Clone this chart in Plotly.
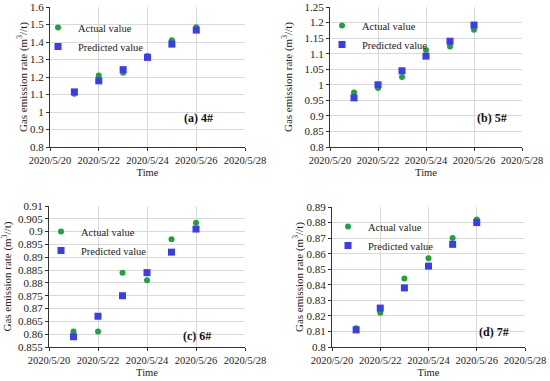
import plotly.graph_objects as go

dates = ["2020-05-21", "2020-05-22", "2020-05-23", "2020-05-24", "2020-05-25", "2020-05-26"]
tick_dates = ["2020-05-20", "2020-05-22", "2020-05-24", "2020-05-26", "2020-05-28"]
tick_labels = ["2020/5/20", "2020/5/22", "2020/5/24", "2020/5/26", "2020/5/28"]

actual_4 = [1.105, 1.208, 1.225, 1.320, 1.410, 1.485]
pred_4 = [1.115, 1.178, 1.242, 1.312, 1.388, 1.468]
actual_5 = [0.975, 0.990, 1.025, 1.112, 1.123, 1.177]
pred_5 = [0.958, 1.000, 1.045, 1.092, 1.140, 1.192]
actual_6 = [0.861, 0.861, 0.884, 0.881, 0.897, 0.9035]
pred_6 = [0.859, 0.867, 0.875, 0.884, 0.892, 0.901]
actual_7 = [0.812, 0.822, 0.844, 0.857, 0.870, 0.882]
pred_7 = [0.811, 0.825, 0.838, 0.852, 0.866, 0.880]

panel_labels = ["(a) 4#", "(b) 5#", "(c) 6#", "(d) 7#"]
y_title = "Gas emission rate (m<sup>3</sup>//t)"
x_title = "Time"

W, H = 550, 381

# panel geometry in window pixels: (left, right, top, bottom)
boxes = [(50, 245, 7, 147), (330, 522, 7, 147), (49, 245, 206, 347), (332, 525, 207, 347)]
yranges = [(0.8, 1.6, 0.1), (0.8, 1.25, 0.05), (0.855, 0.91, 0.005), (0.8, 0.89, 0.01)]
legend_pos = [(38, 13), (322, 11), (41, 217), (328, 212)]
label_pos = [(198, 118), (492, 118), (197, 336), (494, 332)]
ytitle_x = [22, 287, 7, 298]

series = [(actual_4, pred_4), (actual_5, pred_5), (actual_6, pred_6), (actual_7, pred_7)]

FONT = "Liberation Serif"
GREEN = "#1fa23a"
BLUE = "#3b3bf0"


def px(x):
    return min(1.0, max(0.0, x / W))


def py(y):
    return min(1.0, max(0.0, 1 - y / H))


fig = go.Figure()
layout = dict(width=W, height=H, margin=dict(l=0, r=0, t=0, b=0, autoexpand=False),
              template="none",
              paper_bgcolor="white", plot_bgcolor="white",
              font=dict(family=FONT, size=10, color="#222222"), annotations=[])

for i, ((act, pred), (l, r, t, b), (y0, y1, dy), (lx, ly), (ax, ay), lab, tx) in enumerate(
        zip(series, boxes, yranges, legend_pos, label_pos, panel_labels, ytitle_x)):
    n = i + 1
    xa = "x" if n == 1 else f"x{n}"
    ya = "y" if n == 1 else f"y{n}"
    leg = "legend" if n == 1 else f"legend{n}"
    fig.add_trace(go.Scatter(x=dates, y=act, mode="markers", name="Actual value",
                             marker=dict(symbol="circle", size=6, color=GREEN),
                             xaxis=xa, yaxis=ya, legend=leg))
    fig.add_trace(go.Scatter(x=dates, y=pred, mode="markers", name="Predicted value",
                             marker=dict(symbol="square", size=7, color=BLUE),
                             xaxis=xa, yaxis=ya, legend=leg))
    xkey = "xaxis" if n == 1 else f"xaxis{n}"
    ykey = "yaxis" if n == 1 else f"yaxis{n}"
    layout[xkey] = dict(type="date", domain=[px(l), px(r)], anchor=ya, automargin=False,
                        range=["2020-05-20", "2020-05-28"],
                        tickmode="array", tickvals=tick_dates, ticktext=tick_labels,
                        ticklabeloverflow="allow",
                        showgrid=True, gridcolor="#d9d9d9", gridwidth=1,
                        showline=True, linecolor="#333333", linewidth=1,
                        ticks="outside", ticklen=3, tickcolor="#333333",
                        tickfont=dict(family=FONT, size=10.5, color="#222222"),
                        title=dict(text=x_title, font=dict(family=FONT, size=10.5), standoff=4),
                        zeroline=False)
    layout[ykey] = dict(domain=[py(b), py(t)], anchor=xa, automargin=False,
                        range=[y0, y1], dtick=dy, tick0=y0,
                        ticklabeloverflow="allow",
                        showgrid=True, gridcolor="#d9d9d9", gridwidth=1,
                        showline=True, linecolor="#333333", linewidth=1,
                        ticks="outside", ticklen=3, tickcolor="#333333",
                        tickfont=dict(family=FONT, size=11, color="#222222"),
                        zeroline=False)
    layout[leg] = dict(x=px(lx), y=py(ly), xanchor="left", yanchor="top",
                       bgcolor="rgba(0,0,0,0)", borderwidth=0, itemwidth=30,
                       font=dict(family=FONT, size=10.5, color="#222222"),
                       tracegroupgap=0)
    layout["annotations"].append(dict(text=y_title, x=px(tx), y=py((t + b) / 2),
                                      xref="paper", yref="paper", showarrow=False,
                                      textangle=-90, xanchor="center", yanchor="middle",
                                      font=dict(family=FONT, size=11, color="#222222")))
    layout["annotations"].append(dict(text="<b>" + lab + "</b>", x=px(ax), y=py(ay),
                                      xref="paper", yref="paper", showarrow=False,
                                      xanchor="center", yanchor="middle",
                                      font=dict(family=FONT, size=12, color="#111111")))

fig.update_layout(**layout)
fig.write_html("out.html", config={"displayModeBar": False},
               post_script="document.body.style.margin='0px';")
